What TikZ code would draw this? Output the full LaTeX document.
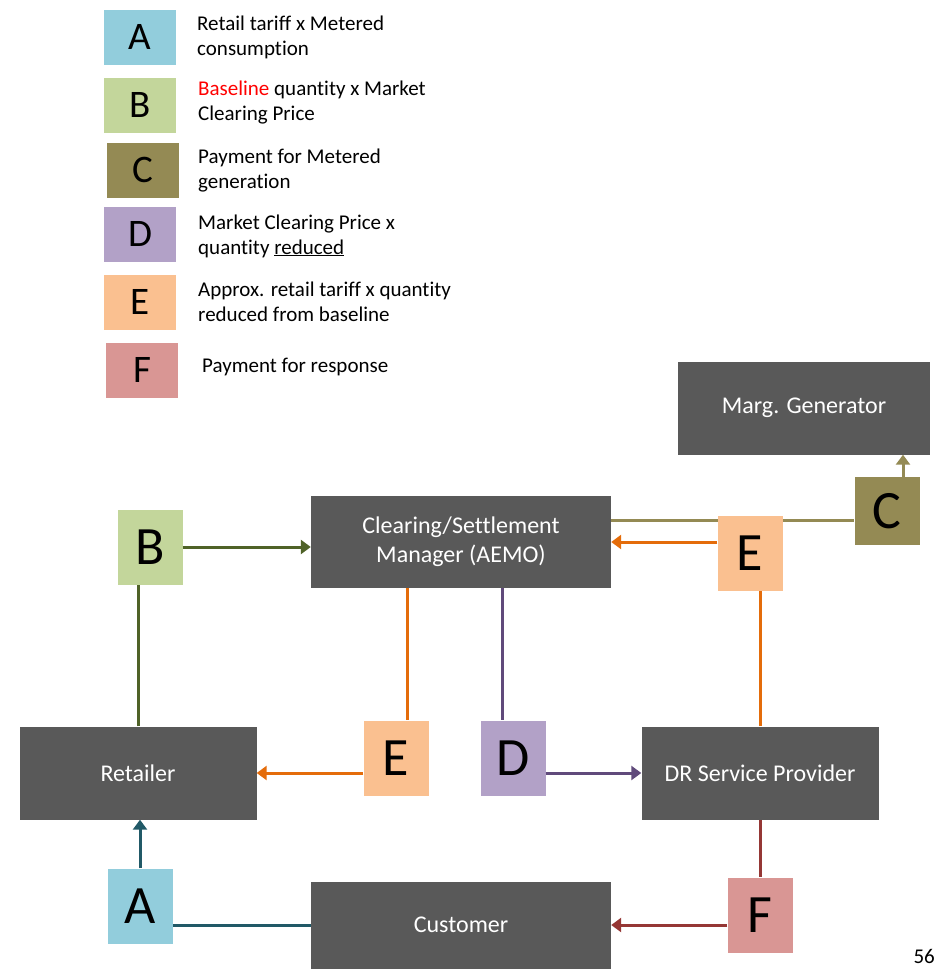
\documentclass[tikz,border=0pt]{standalone}
\usepackage{fontspec}
\setmainfont{Carlito}[Ligatures=NoCommon]
\usetikzlibrary{positioning,arrows.meta,backgrounds}
\definecolor{boxgray}{HTML}{595959}
\definecolor{payA}{HTML}{92CDDC}
\definecolor{payB}{HTML}{C3D69B}
\definecolor{payC}{HTML}{948A54}
\definecolor{payD}{HTML}{B2A1C7}
\definecolor{payE}{HTML}{FAC090}
\definecolor{payF}{HTML}{D99694}
\definecolor{lineA}{HTML}{215967}
\definecolor{lineB}{HTML}{4F6228}
\definecolor{lineC}{HTML}{948A54}
\definecolor{lineD}{HTML}{604A7B}
\definecolor{lineE}{HTML}{E46C0A}
\definecolor{lineF}{HTML}{953735}

\begin{document}
\begin{tikzpicture}[x=1pt,y=-1pt,>={Triangle[length=10pt,width=14pt]},
    font=\fontsize{21}{25}\selectfont,
    party/.style={fill=boxgray,text=white,inner sep=0pt,align=center,font=\fontsize{24}{29}\selectfont},
    pay/.style={fill=#1,inner sep=0pt,minimum width=65pt,minimum height=75pt,font=\fontsize{54}{54}\selectfont},
    key/.style={fill=#1,inner sep=0pt,minimum width=72pt,minimum height=55pt,font=\fontsize{39}{39}\selectfont},
    note/.style={anchor=west,align=left,inner sep=0pt},
    flow/.style={draw=#1,line width=3pt}]
  \useasboundingbox (0,0) rectangle (937,969);

  % legend
  \node[key=payA] (kA) at (140,37) {A};
  \node[note] (tA) at (197,37) {Retail tariff x Metered\\consumption};
  \node[key=payB] (kB) at (140,105) {B};
  \node[note] (tB) at (198,103) {\textcolor{red}{Baseline} quantity x Market\\Clearing Price};
  \node[key=payC] (kC) at (143,170) {C};
  \node[note] (tC) at (198,171) {Payment for Metered\\generation};
  \node[key=payD] (kD) at (140,234) {D};
  \node[note] (tD) at (198,236) {Market Clearing Price x\\quantity \underline{reduced}};
  \node[key=payE] (kE) at (140,302) {E};
  \node[note] (tE) at (198,302) {Approx. retail tariff x quantity\\reduced from baseline};
  \node[key=payF] (kF) at (142,370) {F};
  \node[note] (tF) at (202,367) {Payment for response};

  % parties
  \node[party,minimum width=252pt,minimum height=93pt] (gen) at (804,408) {Marg. Generator};
  \node[party,minimum width=300pt,minimum height=92pt] (aemo) at (461,542) {Clearing/Settlement\\Manager (AEMO)};
  \node[party,minimum width=237pt,minimum height=93pt] (ret) at (138,773) {Retailer};
  \node[party,minimum width=237pt,minimum height=93pt] (drsp) at (760,773) {DR Service Provider};
  \node[party,minimum width=300pt,minimum height=87pt] (cust) at (461,925) {Customer};

  % payments
  \node[pay=payB] (pB) at (150,547) {B};
  \node[pay=payE] (pE1) at (750,553) {E};
  \node[pay=payC,minimum height=68pt] (pC) at (887,511) {C};
  \node[pay=payE] (pE2) at (396,758) {E};
  \node[pay=payD] (pD) at (513,758) {D};
  \node[pay=payA] (pA) at (140,906) {A};
  \node[pay=payF] (pF) at (760,915) {F};

  \node[anchor=base east,inner sep=0pt] (page) at (935,963) {56};

  % flows
  \begin{scope}[on background layer]
    \draw[flow=lineC] ([yshift=22pt]aemo.east) -- ([yshift=22pt]aemo.east -| pC.west);
  \end{scope}
  \draw[flow=lineB,->] (pB.east) -- (pB.east -| aemo.west);
  \draw[flow=lineB] (ret.north) -- (ret.north |- pB.south);
  \draw[flow=lineC,->] ([xshift=16pt]pC.north) -- ([xshift=16pt]pC.north |- gen.south);
  \draw[flow=lineE,->] (pE1.west |- aemo.east) -- (aemo.east);
  \draw[flow=lineE] (drsp.north) -- (drsp.north |- pE1.south);
  \draw[flow=lineE] ([xshift=-54pt]aemo.south) -- ([xshift=-54pt]aemo.south |- pE2.north);
  \draw[flow=lineE,->] (pE2.west |- ret.east) -- (ret.east);
  \draw[flow=lineD] ([xshift=41pt]aemo.south) -- ([xshift=41pt]aemo.south |- pD.north);
  \draw[flow=lineD,->] (pD.east |- drsp.west) -- (drsp.west);
  \draw[flow=lineF] (drsp.south) -- (pF.north);
  \draw[flow=lineF,->] (pF.west |- cust.east) -- (cust.east);
  \draw[flow=lineA] (cust.west) -- (cust.west -| pA.east);
  \draw[flow=lineA,->] (pA.north) -- (pA.north |- ret.south);
\end{tikzpicture}
\end{document}
